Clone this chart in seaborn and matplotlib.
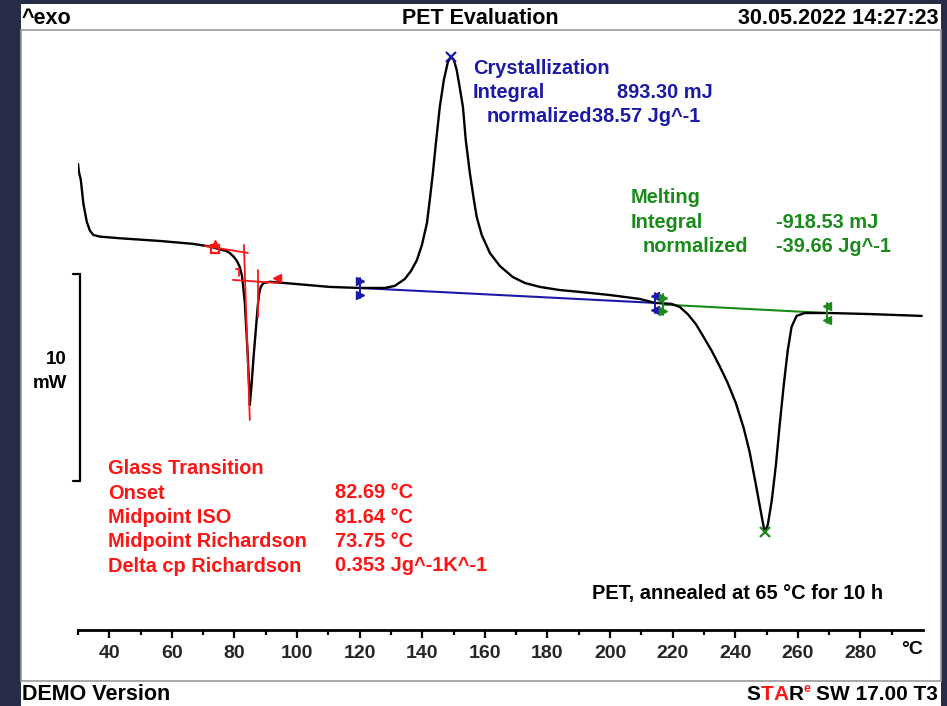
import matplotlib
matplotlib.use("Agg")
import matplotlib.pyplot as plt
import seaborn as sns
import pandas as pd
from matplotlib.patches import Rectangle

# ---------------- data ----------------
temperature_c = [30.0, 30.3, 30.9, 31.7, 32.8, 33.8, 34.9, 37.0, 43.4, 56.2, 66.8, 72.2,
                 75.4, 77.3, 78.5, 79.8, 80.8, 81.7, 82.4, 82.9, 83.3, 84.2, 84.7, 84.9,
                 85.4, 86.2, 86.9, 87.4, 87.9, 88.4, 89.2, 91.3, 99.8, 110.5, 120.1, 126.5,
                 128.0, 131.2, 134.4, 136.4, 138.3, 139.9, 141.5, 142.4, 143.4, 144.3,
                 145.6, 146.9, 148.2, 149.2, 150.1, 151.0, 152.0, 153.0, 153.9, 155.2,
                 156.5, 157.4, 159.0, 161.6, 164.8, 168.9, 172.8, 177.6, 183.9, 190.3,
                 199.9, 209.5, 214.3, 219.7, 222.3, 224.8, 227.4, 229.9, 232.5, 235.0,
                 237.6, 240.2, 242.7, 244.6, 246.5, 248.2, 249.4, 250.4, 251.7, 253.0,
                 254.2, 255.5, 256.8, 258.0, 259.6, 262.2, 270.2, 282.9, 299.6]
heat_flow_mw = [6.57, 6.18, 5.80, 4.67, 3.78, 3.35, 3.14, 3.06, 2.98, 2.85, 2.71, 2.58,
                2.44, 2.37, 2.27, 2.08, 1.88, 1.59, 1.16, 0.48, -0.14, -2.56, -4.20, -5.07,
                -4.20, -2.56, -1.30, -0.34, 0.34, 0.63, 0.81, 0.88, 0.77, 0.63, 0.58, 0.58,
                0.58, 0.68, 1.01, 1.40, 1.93, 2.66, 3.72, 4.83, 6.14, 7.49,
                9.32, 10.63, 11.50, 11.74, 11.59, 11.11, 10.24, 9.32, 7.73, 6.14,
                4.83, 4.01, 3.14, 2.27, 1.64, 1.11, 0.82, 0.63, 0.48, 0.39,
                0.24, 0.05, -0.14, -0.19, -0.34, -0.68, -1.16, -1.79, -2.46, -3.19,
                -4.01, -4.98, -6.18, -7.34, -8.84, -10.24, -11.21, -10.87, -9.66, -7.97,
                -6.04, -4.11, -2.42, -1.30, -0.77, -0.63, -0.63, -0.68, -0.77]

# glass transition construction lines (T, mW)
gt_pre_tangent_t = [70.6, 84.3]
gt_pre_tangent_y = [2.61, 2.27]
gt_post_tangent_t = [79.5, 93.9]
gt_post_tangent_y = [0.97, 0.82]
gt_steep_t = [83.0, 84.9]
gt_steep_y = [2.66, -5.80]
gt_cross_t = [87.5, 87.5]
gt_cross_y = [1.45, -0.82]
gt_start = (73.75, 2.46)
gt_mid_iso = (81.4, 1.50)
gt_end = (93.6, 1.06)

# integration baselines
cryst_baseline_t = [120.1, 214.3]
cryst_baseline_y = [0.58, -0.14]
melt_baseline_t = [216.8, 269.2]
melt_baseline_y = [-0.22, -0.63]
cryst_peak = (149.3, 11.75)
melt_peak = (249.4, -11.21)

x_major_ticks = list(range(40, 281, 20))
x_minor_ticks = list(range(30, 291, 10))

cryst_labels = ["Crystallization", "Integral", "normalized"]
cryst_values = ["893.30 mJ", "38.57 Jg^-1"]
melt_labels = ["Melting", "Integral", "normalized"]
melt_values = ["-918.53 mJ", "-39.66 Jg^-1"]
gt_labels = ["Glass Transition", "Onset", "Midpoint ISO", "Midpoint Richardson", "Delta cp Richardson"]
gt_values = ["82.69 °C", "81.64 °C", "73.75 °C", "0.353 Jg^-1K^-1"]

# ---------------- styling ----------------
NAVY = "#272d47"
BLUE = "#1a1aa6"
GREEN = "#1a8a1a"
RED = "#ff1414"
W, H = 947, 706

sns.set_theme(style="white")
plt.rcParams['font.family'] = ['Liberation Sans', 'DejaVu Sans']
plt.rcParams['font.weight'] = 'bold'

fig = plt.figure(figsize=(W / 100, H / 100), dpi=100, facecolor=NAVY)


def fx(px):
    return px / W


def fy(py):
    return 1 - py / H


fig.patches.append(Rectangle((fx(21), 0), fx(941) - fx(21), fy(4), transform=fig.transFigure,
                             facecolor="white", edgecolor="none", zorder=-10))
fig.patches.append(Rectangle((fx(21), fy(681)), fx(941) - fx(21), fy(30) - fy(681),
                             transform=fig.transFigure, fill=False, edgecolor="#9a9a9a",
                             lw=1.2, zorder=-5))

ax = fig.add_axes([fx(78), fy(630), fx(923) - fx(78), fy(36) - fy(630)])
ax.set_zorder(2)
ax.patch.set_alpha(0)

df = pd.DataFrame({"T": temperature_c, "HF": heat_flow_mw})
sns.lineplot(data=df, x="T", y="HF", sort=False, estimator=None, color="black", lw=1.7, ax=ax)

ax.set_xlim(30, 300)
ax.set_ylim(-15.94, 12.75)
for s in ["top", "left", "right"]:
    ax.spines[s].set_visible(False)
ax.spines["bottom"].set_color("black")
ax.spines["bottom"].set_linewidth(2.0)
ax.set_xticks(x_major_ticks)
ax.set_xticks(x_minor_ticks, minor=True)
ax.set_xticklabels([str(t) for t in x_major_ticks])
ax.tick_params(axis="x", which="major", direction="out", length=6, width=1.6, color="black",
               labelsize=14, pad=5, bottom=True)
ax.tick_params(axis="x", which="minor", direction="out", length=3.5, width=1.6, color="black",
               bottom=True)
for lab in ax.get_xticklabels():
    lab.set_fontweight("bold")
ax.set_yticks([])
ax.set_xlabel("")
ax.set_ylabel("")

# glass transition
ax.plot(gt_pre_tangent_t, gt_pre_tangent_y, color=RED, lw=1.3)
ax.plot(gt_post_tangent_t, gt_post_tangent_y, color=RED, lw=1.3)
ax.plot(gt_steep_t, gt_steep_y, color=RED, lw=1.3)
ax.plot(gt_cross_t, gt_cross_y, color=RED, lw=1.3)
ax.plot([gt_start[0]], [gt_start[1]], marker="s", ms=6, mfc="none", mec=RED, mew=1.6)
ax.plot([gt_start[0]], [gt_start[1] + 0.3], marker="^", ms=4, color=RED)
ax.plot([gt_mid_iso[0] - 0.8, gt_mid_iso[0]], [gt_mid_iso[1], gt_mid_iso[1]], color=RED, lw=1.3)
ax.plot([gt_mid_iso[0], gt_mid_iso[0]], [gt_mid_iso[1], gt_mid_iso[1] - 0.35], color=RED, lw=1.3)
ax.plot([gt_end[0]], [gt_end[1]], marker="<", ms=5.5, color=RED)

# integration baselines
ax.plot(cryst_baseline_t, cryst_baseline_y, color=BLUE, lw=1.5, zorder=1)
ax.plot(melt_baseline_t, melt_baseline_y, color=GREEN, lw=1.5, zorder=1)


def limit_marker(t, y, color, direction):
    m = ">" if direction == "right" else "<"
    ax.plot([t, t], [y - 0.5, y + 0.5], color=color, lw=1.4)
    ax.plot([t, t], [y + 0.33, y - 0.33], ls="none", marker=m, ms=5.5, color=color)


limit_marker(cryst_baseline_t[0], cryst_baseline_y[0], BLUE, "right")
limit_marker(cryst_baseline_t[1], cryst_baseline_y[1], BLUE, "left")
limit_marker(melt_baseline_t[0], melt_baseline_y[0], GREEN, "right")
limit_marker(melt_baseline_t[1], melt_baseline_y[1], GREEN, "left")

ax.plot([cryst_peak[0]], [cryst_peak[1]], marker="x", ms=7, mew=1.6, color=BLUE)
ax.plot([melt_peak[0]], [melt_peak[1]], marker="x", ms=7, mew=1.6, color=GREEN)

# 10 mW scale bar
bar_t = 30.6
bar_top, bar_bot = 1.26, -8.74
ax.plot([bar_t, bar_t], [bar_top, bar_bot], color="black", lw=1.6, clip_on=False)
ax.plot([28.4, bar_t], [bar_top, bar_top], color="black", lw=1.6, clip_on=False)
ax.plot([28.4, bar_t], [bar_bot, bar_bot], color="black", lw=1.6, clip_on=False)

FS = 14.4


def ftext(px, py, s, color="black", ha="left", size=FS):
    fig.text(fx(px), fy(py), s, color=color, ha=ha, va="center", fontsize=size, fontweight="bold")


ftext(67, 360, "10", ha="right", size=13.5)
ftext(67, 383, "mW", ha="right", size=13.5)

# crystallization text
ftext(473, 69, cryst_labels[0], BLUE)
ftext(473, 93, cryst_labels[1], BLUE)
ftext(487, 117, cryst_labels[2], BLUE)
ftext(617, 93, cryst_values[0], BLUE)
ftext(592, 117, cryst_values[1], BLUE)

# melting text
ftext(631, 198, melt_labels[0], GREEN)
ftext(631, 222, melt_labels[1], GREEN)
ftext(643, 246, melt_labels[2], GREEN)
ftext(776, 222, melt_values[0], GREEN)
ftext(776, 246, melt_values[1], GREEN)

# glass transition text
for i, lab in enumerate(gt_labels):
    ftext(108, 469 + 24.3 * i, lab, RED)
for i, val in enumerate(gt_values):
    ftext(335, 493 + 24.3 * i, val, RED)

ftext(883, 594, "PET, annealed at 65 °C for 10 h", ha="right")
ftext(912, 650, "°C", ha="center", size=14)

# header
HS = 15.5
ftext(22, 18, "^exo", size=HS)
ftext(480, 18, "PET Evaluation", ha="center", size=HS)
ftext(938, 18, "30.05.2022 14:27:23", ha="right", size=HS)

# footer
ftext(22, 694, "DEMO Version", size=HS)
# STARe logo: S black, TA red, R black, e superscript red
fig.text(fx(938), fy(694), "SW 17.00 T3", ha="right", va="center", fontsize=15,
         fontweight="bold", color="black")
fig.canvas.draw()
r = fig.canvas.get_renderer()
t_sw = fig.texts[-1]
bb = t_sw.get_window_extent(renderer=r)
x_cursor = bb.x0 - 6
for ch, col, sz, dy in [("e", RED, 9, 5), ("R", "black", 15, 0), ("A", RED, 15, 0),
                        ("T", RED, 15, 0), ("S", "black", 15, 0)]:
    t = fig.text(x_cursor / W, fy(694) + dy / H, ch, ha="right", va="center", fontsize=sz,
                 fontweight="bold", color=col)
    x_cursor = t.get_window_extent(renderer=r).x0

fig.savefig("out.png", dpi=100, facecolor=NAVY)
